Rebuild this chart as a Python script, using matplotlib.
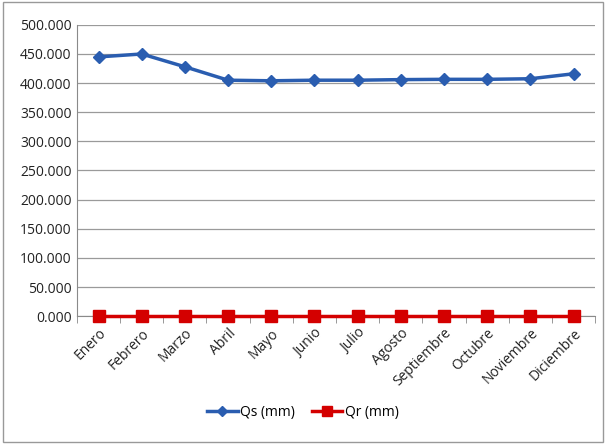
import numpy as np
import matplotlib.pyplot as plt

meses = ["Enero", "Febrero", "Marzo", "Abril", "Mayo", "Junio", "Julio",
         "Agosto", "Septiembre", "Octubre", "Noviembre", "Diciembre"]
qs = [445, 450, 428, 405, 404, 405, 405, 406, 406.5, 406.5, 407.5, 416]
qr = [0, 0, 0, 0, 0, 0, 0, 0, 0, 0, 0, 0]
yticks = np.arange(0, 501, 50)

plt.rcParams['font.family'] = ['Open Sans', 'DejaVu Sans']

fig = plt.figure(figsize=(6.06, 4.44), dpi=100)
ax = fig.add_axes([0.127, 0.288, 0.855, 0.656])

x = np.arange(len(meses))
ax.plot(x, qs, color="#2a5db0", linewidth=2.5, marker="D", markersize=6.5,
        label="Qs (mm)", zorder=3, clip_on=False)
ax.plot(x, qr, color="#d40000", linewidth=2.5, marker="s", markersize=8.5,
        label="Qr (mm)", zorder=4, clip_on=False)

ax.set_xlim(-0.5, len(meses) - 0.5)
ax.set_ylim(0, 500)
ax.set_yticks(yticks)
ax.set_yticklabels([f"{v:.3f}" for v in yticks], fontsize=10, color="#222222")
ax.set_xticks(x)
ax.set_xticklabels(meses, rotation=45, ha="right", rotation_mode="anchor",
                   fontsize=10, color="#222222")
ax.tick_params(axis="x", length=0, pad=7)
ax.tick_params(axis="y", length=0, pad=4)
# category separators on the axis
ax.set_xticks(np.arange(-0.5, len(meses)), minor=True)
ax.tick_params(axis="x", which="minor", length=5, color="#888888")

ax.grid(axis="y", color="#9a9a9a", linewidth=0.9)
ax.set_axisbelow(True)
for s in ["top", "right"]:
    ax.spines[s].set_visible(False)
ax.spines["left"].set_color("#8a8a8a")
ax.spines["bottom"].set_color("#8a8a8a")

fig.legend(loc="center", bbox_to_anchor=(0.5, 0.072), ncol=2, frameon=False,
           fontsize=10, handlelength=2.2, columnspacing=1.2, handletextpad=0.2,
           markerscale=0.8)

fig.patches.append(plt.Rectangle((0.005, 0.005), 0.99, 0.99,
                                 transform=fig.transFigure, fill=False,
                                 edgecolor="#999999", linewidth=1))

fig.savefig("out.png", dpi=100)
